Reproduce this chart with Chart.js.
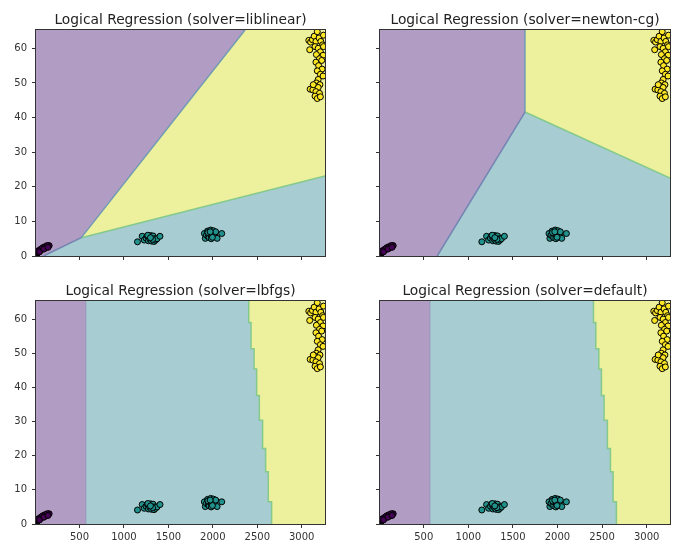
<!DOCTYPE html>
<html>
<head>
<meta charset="utf-8">
<script src="https://cdn.jsdelivr.net/npm/chart.js@4.4.1/dist/chart.umd.min.js"></script>
<style>
  html, body { margin: 0; padding: 0; background: #ffffff; }
  body { width: 676px; height: 544px; position: relative; overflow: hidden; }
  canvas { position: absolute; }
</style>
</head>
<body>
<canvas id="p0"></canvas>
<canvas id="p1"></canvas>
<canvas id="p2"></canvas>
<canvas id="p3"></canvas>
<script>
// ---- plot window and ticks ----
const X_RANGE = [10, 3262];
const Y_RANGE = [0, 65.3];
const xTicks = [500, 1000, 1500, 2000, 2500, 3000];
const yTicks = [0, 10, 20, 30, 40, 50, 60];
const solvers = ['liblinear', 'newton-cg', 'lbfgs', 'default'];

// ---- samples, one pair of arrays per class ----
const class0X = [15, 22, 30, 38, 46, 54, 62, 70, 78, 86, 94, 102, 110, 118, 126, 134, 142, 150, 158, 35, 60, 85, 110, 135, 50, 100, 145];
const class0Y = [0.5, 0.8, 1.0, 1.2, 1.4, 1.6, 1.7, 1.9, 2.0, 2.1, 2.2, 2.3, 2.4, 2.5, 2.6, 2.7, 2.8, 2.9, 3.0, 1.5, 1.9, 2.4, 2.7, 3.0, 1.2, 2.0, 2.5];

const class1X = [1152, 1205, 1228, 1248, 1262, 1275, 1283, 1292, 1300, 1310, 1318, 1328, 1338, 1345, 1355, 1372, 1405, 1268, 1322, 1298,
                 1905, 1915, 1928, 1940, 1948, 1958, 1965, 1975, 1982, 1990, 1998, 2005, 2012, 2022, 2032, 2048, 2100, 1945, 1995, 1970];
const class1Y = [4.1, 5.7, 4.6, 5.2, 5.8, 4.4, 5.5, 4.8, 5.9, 4.3, 5.3, 5.8, 4.2, 5.0, 4.6, 5.0, 5.7, 6.0, 4.8, 5.3,
                 6.5, 5.1, 6.0, 7.2, 5.6, 5.3, 6.4, 7.5, 5.0, 6.0, 6.8, 7.3, 5.6, 6.3, 7.0, 5.1, 6.5, 6.8, 5.4, 7.0];

const class2X = [3080, 3100, 3120, 3140, 3160, 3175, 3195, 3215, 3235, 3090, 3150, 3185, 3210, 3240, 3165, 3200, 3225, 3160, 3190,
                 3230, 3175, 3210, 3240, 3185, 3165, 3205, 3145, 3185, 3095, 3125, 3160, 3200, 3150, 3175, 3210, 3245, 3245, 3130];
const class2Y = [62.3, 61.8, 62.5, 63.5, 62.0, 64.8, 63.0, 62.0, 61.0, 59.6, 60.5, 60.0, 59.0, 58.0, 58.2, 57.0, 56.5, 56.0, 55.0,
                 54.0, 53.5, 52.5, 52.0, 51.0, 50.0, 49.5, 49.2, 48.7, 48.2, 48.0, 47.5, 47.0, 46.2, 45.5, 46.0, 63.8, 60.5, 49.5];

// ---- decision boundaries as [x, y] vertices (01 = class 0 | class 1, etc.) ----
const liblinear01 = [[95, 0], [520, 5.3]];
const liblinear02 = [[520, 5.3], [2362, 65.3]];
const liblinear12 = [[520, 5.3], [3262, 23.1]];

const newton01 = [[652, 0], [1636, 41.6]];
const newton02 = [[1636, 41.6], [1636, 65.3]];
const newton12 = [[1636, 41.6], [3262, 22.5]];

const lbfgs01 = [[570, 0], [570, 65.3]];
const lbfgs12 = [[2404, 65.3], [2404, 59.0], [2430, 59.0], [2430, 51.3], [2464, 51.3], [2464, 45.4], [2493, 45.4],
                 [2493, 37.6], [2523, 37.6], [2523, 30.4], [2560, 30.4], [2560, 22.1], [2594, 22.1], [2594, 15.3],
                 [2624, 15.3], [2624, 6.5], [2661, 6.5], [2661, 0]];

// ---- styling ----
const REGION = ['#b19dc3', '#a7ccd1', '#edf09c'];
const POINT = ['#440154', '#21918c', '#fde725'];
const SEAM01 = 'rgba(105,125,175,0.85)';
const SEAM02 = 'rgba(100,150,180,0.85)';
const SEAM12 = 'rgba(125,200,135,0.9)';

Chart.defaults.font.family = "'DejaVu Sans', sans-serif";

const [X0, X1] = X_RANGE;
const [Y0, Y1] = Y_RANGE;
const pts = arr => arr.map(([x, y]) => ({ x, y }));
const zipXY = (xs, ys) => xs.map((x, i) => ({ x, y: ys[i] }));

// region polygons assembled from the boundaries and the plot window
function panelRegions(name) {
  if (name === 'liblinear' || name === 'newton-cg') {
    const b01 = name === 'liblinear' ? liblinear01 : newton01;
    const b02 = name === 'liblinear' ? liblinear02 : newton02;
    const b12 = name === 'liblinear' ? liblinear12 : newton12;
    return {
      purple: [[X0, Y0], ...b01, ...b02.slice(1), [X0, Y1]],
      yellow: [...b02, [X1, Y1], ...b12.slice().reverse()],
      seams: [[b01, SEAM01], [b02, SEAM02], [b12, SEAM12]]
    };
  }
  return {
    purple: [[X0, Y0], ...lbfgs01, [X0, Y1]],
    yellow: [...lbfgs12, [X1, Y0], [X1, Y1]],
    seams: [[lbfgs01, 'rgba(140,140,185,0.45)'], [lbfgs12, SEAM12]]
  };
}

const framePlugin = {
  id: 'frame',
  afterDatasetsDraw(chart) {
    const { ctx, chartArea: a } = chart;
    ctx.save();
    ctx.strokeStyle = '#333';
    ctx.lineWidth = 1;
    ctx.strokeRect(a.left - 0.5, a.top - 0.5, a.right - a.left + 1, a.bottom - a.top + 1);
    ctx.restore();
  }
};

// canvas placement: [left, top, plot width, plot height]
const placement = [
  [0, 0, 289, 226],
  [344, 0, 290, 226],
  [0, 271, 289, 223],
  [344, 271, 290, 223]
];

solvers.forEach((solver, i) => {
  const canvas = document.getElementById('p' + i);
  const [left, top, w, h] = placement[i];
  canvas.width = 36 + w + 6;
  canvas.height = 30 + h + 20;
  canvas.style.left = left + 'px';
  canvas.style.top = top + 'px';

  const showX = i >= 2;
  const showY = i % 2 === 0;
  const reg = panelRegions(solver);

  const polygon = (vertices, color, order) => ({
    type: 'line', data: pts(vertices), fill: 'shape', backgroundColor: color,
    borderWidth: 0, borderColor: 'transparent', pointRadius: 0, tension: 0, order
  });

  const datasets = [
    polygon([[X0, Y0], [X1, Y0], [X1, Y1], [X0, Y1]], REGION[1], 6),
    polygon(reg.purple, REGION[0], 5),
    polygon(reg.yellow, REGION[2], 5),
    ...reg.seams.map(([line, color]) => ({
      type: 'line', data: pts(line), fill: false, borderColor: color, borderWidth: 1.5,
      pointRadius: 0, tension: 0, order: 3
    })),
    ...[[class0X, class0Y], [class1X, class1Y], [class2X, class2Y]].map(([xs, ys], k) => ({
      type: 'scatter', data: zipXY(xs, ys), backgroundColor: POINT[k], borderColor: '#000',
      pointBackgroundColor: POINT[k], pointBorderColor: '#000', pointRadius: 3, pointBorderWidth: 1,
      borderWidth: 1, clip: 0, order: 0
    }))
  ];

  const axisCommon = {
    type: 'linear',
    grid: { drawOnChartArea: false, drawTicks: true, tickLength: 4, color: '#333', lineWidth: 1 },
    border: { display: false },
  };

  new Chart(canvas, {
    type: 'scatter',
    data: { datasets },
    plugins: [framePlugin],
    options: {
      responsive: false,
      animation: false,
      events: [],
      layout: { padding: { left: 0, right: 6, top: 0, bottom: 0 } },
      plugins: {
        legend: { display: false },
        tooltip: { enabled: false },
        title: {
          display: true,
          text: 'Logical Regression (solver=' + solver + ')',
          fullSize: false,
          color: '#222',
          font: { size: 13.8, weight: 'normal', lineHeight: '16px' },
          padding: { top: 12, bottom: 2 }
        }
      },
      scales: {
        x: {
          ...axisCommon,
          min: X0, max: X1,
          afterBuildTicks: axis => { axis.ticks = xTicks.map(v => ({ value: v })); },
          afterFit: axis => { axis.height = 20; },
          ticks: {
            autoSkip: false, maxRotation: 0, padding: 3, color: '#333', font: { size: 10 },
            callback: v => showX ? String(v) : ''
          }
        },
        y: {
          ...axisCommon,
          min: Y0, max: Y1,
          afterBuildTicks: axis => { axis.ticks = yTicks.map(v => ({ value: v })); },
          afterFit: axis => { axis.width = 36; },
          ticks: {
            autoSkip: false, padding: 5, color: '#333', font: { size: 10 },
            callback: v => showY ? String(v) : ''
          }
        }
      }
    }
  });
});
</script>
</body>
</html>
